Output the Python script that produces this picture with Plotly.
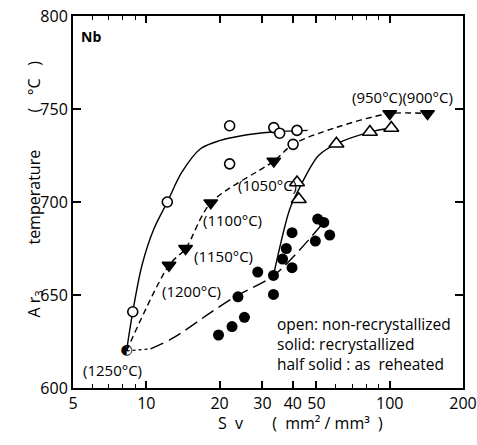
import math
import plotly.graph_objects as go

# ---- data ----
# open circles: non-recrystallized
open_circ_x = [8.8, 12.2, 22.0, 22.0, 33.4, 35.3, 41.6, 40.1]
open_circ_y = [641, 700, 741, 720.5, 740, 737, 738.5, 731]
# solid circles: recrystallized
solid_circ_x = [19.8, 22.5, 25.3, 23.8, 28.7, 33.3, 33.3, 36.3, 37.6, 39.7, 39.7, 50.6, 53.6, 49.5, 56.7]
solid_circ_y = [628.5, 633, 638, 649, 662.3, 650.3, 660.5, 669.3, 675, 664.7, 683.5, 690.8, 689, 679, 682.2]
# open up-triangles: non-recrystallized
open_tri_x = [41.6, 42.3, 60.4, 82.9, 101.5]
open_tri_y = [710.5, 701.5, 731.3, 737.6, 739.8]
# half solid: as reheated (reheating temperatures)
reheat_x = [12.4, 14.5, 18.4, 33.4, 100, 143]
reheat_y = [666, 675, 699.5, 722, 747.5, 747.5]
reheat_start_x = [8.3]
reheat_start_y = [620]

# hand-drawn guide curves
curve_open_x = [8.3, 8.8, 9.6, 10.7, 12.2, 14.0, 16.7, 20.0, 24.3, 33.0, 46.0]
curve_open_y = [620, 641, 666, 685, 700, 716, 728.6, 733, 735.5, 737.6, 738.5]
curve_reheat_x = [8.3, 12.4, 14.5, 18.4, 33.4, 40.1, 60, 100, 143]
curve_reheat_y = [620, 666, 675, 699.5, 722, 731, 740, 747.5, 747.5]
curve_tri_x = [33.3, 38.8, 42.0, 51.0, 60.4, 82.9, 101.5]
curve_tri_y = [660.5, 696, 706, 725, 731.3, 737.6, 739.8]
curve_solid_dot_x = [8.3, 10.4]
curve_solid_dot_y = [620, 621]
curve_solid_x = [10.4, 12.9, 18.3, 23.5, 33.4, 52.7]
curve_solid_y = [621, 626.9, 640.4, 649.6, 660.5, 688]

x_ticks = [5, 10, 20, 30, 40, 50, 100, 200]
x_minor = [6, 7, 8, 9, 60, 70, 80, 90]
y_ticks = [600, 650, 700, 750, 800]

labels = ["(1250°C)", "(1200°C)", "(1150°C)", "(1100°C)", "(1050°C)", "(950°C)(900°C)"]
label_x = [7.24, 15.4, 20.7, 22.5, 31.4, 113]
label_y = [609.7, 651.9, 670.8, 690.3, 709.2, 756.7]

note_lines = ["open:\u00a0non-recrystallized",
              "solid:\u00a0recrystallized",
              "half\u00a0solid\u00a0:\u00a0as\u00a0\u00a0reheated"]

FONT = "Open Sans"
NB = "\u00a0"
fig = go.Figure()

def line(x, y, dash="solid", width=1.4):
    fig.add_trace(go.Scatter(x=x, y=y, mode="lines",
                             line=dict(color="black", width=width, dash=dash, shape="spline", smoothing=0.9),
                             hoverinfo="skip", showlegend=False))

line(curve_open_x, curve_open_y)
line(curve_reheat_x, curve_reheat_y, dash="6px,4px")
line(curve_tri_x, curve_tri_y)
line(curve_solid_dot_x, curve_solid_dot_y, dash="dot", width=1.2)
line(curve_solid_x, curve_solid_y, dash="14px,6px")

fig.add_trace(go.Scatter(x=open_circ_x, y=open_circ_y, mode="markers",
    marker=dict(symbol="circle", size=10, color="white", line=dict(color="black", width=1.6)), showlegend=False))
fig.add_trace(go.Scatter(x=solid_circ_x, y=solid_circ_y, mode="markers",
    marker=dict(symbol="circle", size=11, color="black", line=dict(color="black", width=0)), showlegend=False))
fig.add_trace(go.Scatter(x=open_tri_x, y=open_tri_y, mode="markers",
    marker=dict(symbol="triangle-up", size=13, color="white", line=dict(color="black", width=1.6)), showlegend=False))
fig.add_trace(go.Scatter(x=reheat_x, y=reheat_y, mode="markers",
    marker=dict(symbol="triangle-down", size=12, color="black", line=dict(color="black", width=1.4)), showlegend=False))
fig.add_trace(go.Scatter(x=reheat_start_x, y=reheat_start_y, mode="text", text=["\u25d0"],
    textposition="middle center", textfont=dict(family="DejaVu Sans", size=14, color="black"),
    showlegend=False))

annotations = []
for t, lx, ly in zip(labels, label_x, label_y):
    annotations.append(dict(x=math.log10(lx), y=ly, xref="x", yref="y", text=t, showarrow=False,
                            font=dict(family=FONT, size=15, color="black")))

annotations += [
    dict(x=0.015, y=0.944, xref="paper", yref="paper", xanchor="left", yanchor="middle",
         text="<b>Nb</b>", showarrow=False, font=dict(family=FONT, size=14, color="black")),
    dict(x=(275 - 73) / 390, y=(388 - 344) / 372, xref="paper", yref="paper",
         xanchor="left", yanchor="middle", align="left",
         text="<br>".join(note_lines), showarrow=False, font=dict(family=FONT, size=15.5, color="black")),
    dict(x=(20 - 73) / 390, y=(388 - 189) / 372, xref="paper", yref="paper", textangle=-90,
         text="A" + NB + "r<sub>3</sub>" + NB * 11 + "temperature" + NB * 9 + "(" + NB * 3 + "°C" + NB * 3 + ")",
         showarrow=False, font=dict(family=FONT, size=16, color="black")),
    dict(x=(300 - 73) / 390, y=(388 - 436) / 372, xref="paper", yref="paper",
         text="S" + NB * 2 + "v" + NB * 7 + "(" + NB * 2 + "mm²" + NB + "/" + NB + "mm³" + NB * 2 + ")",
         showarrow=False, font=dict(family=FONT, size=16, color="black")),
]

fig.update_layout(
    width=477, height=445,
    margin=dict(l=73, r=14, t=16, b=57, autoexpand=False),
    paper_bgcolor="white", plot_bgcolor="white",
    font=dict(family=FONT, size=16, color="black"),
    annotations=annotations,
    xaxis=dict(type="log", range=[math.log10(5), math.log10(200)], automargin=False,
               tickvals=x_ticks, ticktext=[str(v) for v in x_ticks],
               ticks="inside", ticklen=7, tickwidth=1.5, tickcolor="black",
               minor=dict(tickvals=x_minor, ticks="inside", ticklen=4, tickwidth=1.2, tickcolor="black"),
               showline=True, linewidth=2, linecolor="black", mirror="ticks",
               showgrid=False, zeroline=False, tickfont=dict(size=16)),
    yaxis=dict(range=[600, 800], tickvals=y_ticks, automargin=False,
               ticks="inside", ticklen=8, tickwidth=1.5, tickcolor="black",
               showline=True, linewidth=2, linecolor="black", mirror="ticks",
               showgrid=False, zeroline=False, tickfont=dict(size=16)),
)

fig.write_html("out.html", config={"displayModeBar": False},
               post_script="document.body.style.margin='0';document.body.style.overflow='hidden';")
